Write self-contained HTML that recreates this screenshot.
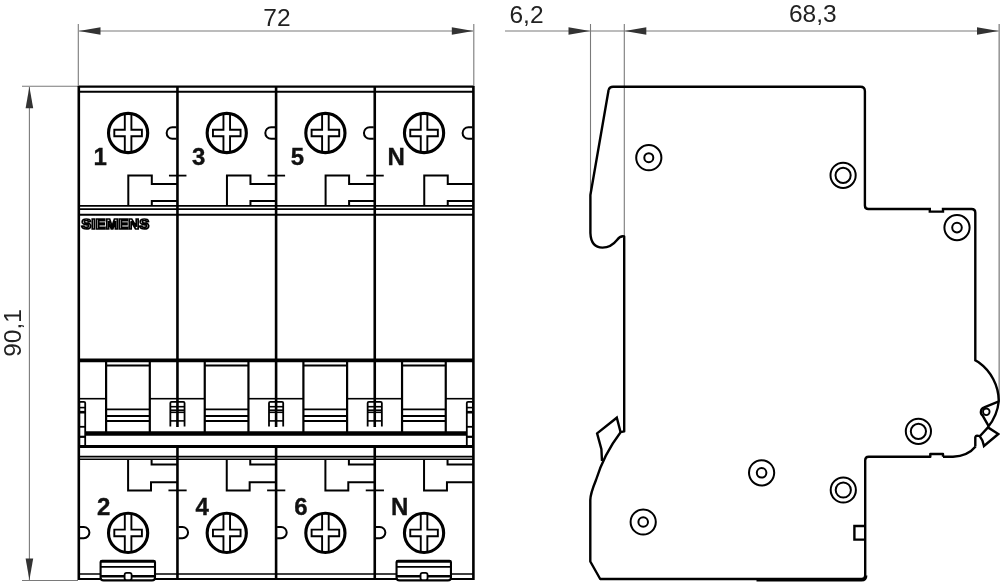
<!DOCTYPE html>
<html><head><meta charset="utf-8"><style>
html,body{margin:0;padding:0;background:#fff;width:1000px;height:584px;overflow:hidden}
svg{display:block;will-change:transform}
</style></head><body>
<svg width="1000" height="584" viewBox="0 0 1000 584">
<rect width="1000" height="584" fill="#fff"/>
<g stroke="#7a7a7a" stroke-width="1.1" fill="none">
<line x1="78.3" y1="24" x2="78.3" y2="86.5"/>
<line x1="473.8" y1="24" x2="473.8" y2="86.5"/>
<line x1="79" y1="31" x2="473" y2="31"/>
<line x1="22" y1="86.3" x2="78" y2="86.3"/>
<line x1="22" y1="580.5" x2="78" y2="580.5"/>
<line x1="29.4" y1="87" x2="29.4" y2="580"/>
<line x1="505" y1="31" x2="999" y2="31"/>
<line x1="590.5" y1="24" x2="590.5" y2="194"/>
<line x1="624.3" y1="24" x2="624.3" y2="236"/>
<line x1="999.2" y1="24" x2="999.2" y2="400" stroke="#9a9a9a" stroke-width="1.6"/>
</g>
<path d="M79,31 L100.5,27.2 L100.5,34.8 Z" fill="#333"/>
<path d="M473.3,31 L451.8,27.2 L451.8,34.8 Z" fill="#333"/>
<path d="M29.4,86.8 L25.599999999999998,108.3 L33.199999999999996,108.3 Z" fill="#333"/>
<path d="M29.4,580 L25.599999999999998,558.5 L33.199999999999996,558.5 Z" fill="#333"/>
<path d="M590,31 L568.5,27.2 L568.5,34.8 Z" fill="#333"/>
<path d="M624.8,31 L646.3,27.2 L646.3,34.8 Z" fill="#333"/>
<path d="M998.5,31 L977.0,27.2 L977.0,34.8 Z" fill="#333"/>
<g font-family="Liberation Sans, sans-serif" fill="#222">
<text x="277" y="25.9" font-size="24.5" text-anchor="middle">72</text>
<text x="526.5" y="22.5" font-size="24.5" text-anchor="middle">6,2</text>
<text x="812.8" y="22.4" font-size="24.5" text-anchor="middle">68,3</text>
<text transform="translate(21.2,333.0) rotate(-90)" font-size="24.5" text-anchor="middle">90,1</text>
</g>
<g stroke="#000" fill="none" stroke-linecap="butt">
<line x1="78.8" y1="86" x2="78.8" y2="580" stroke-width="2.6"/>
<line x1="473.40000000000003" y1="86" x2="473.40000000000003" y2="580" stroke-width="2.6"/>
<line x1="78.8" y1="86.6" x2="473.40000000000003" y2="86.6" stroke-width="2.3"/>
<line x1="78.8" y1="91.8" x2="473.40000000000003" y2="91.8" stroke-width="2"/>
<line x1="78.8" y1="205.9" x2="473.40000000000003" y2="205.9" stroke-width="1.8"/>
<line x1="78.8" y1="209.2" x2="473.40000000000003" y2="209.2" stroke-width="1.8"/>
<line x1="78.8" y1="214.8" x2="473.40000000000003" y2="214.8" stroke-width="2"/>
<line x1="78.8" y1="360.4" x2="473.40000000000003" y2="360.4" stroke-width="3.8"/>
<line x1="78.8" y1="446.6" x2="473.40000000000003" y2="446.6" stroke-width="3"/>
<line x1="78.8" y1="456.6" x2="473.40000000000003" y2="456.6" stroke-width="1.6"/>
<line x1="78.8" y1="459.3" x2="473.40000000000003" y2="459.3" stroke-width="1.6"/>
<line x1="78.8" y1="574.0" x2="473.40000000000003" y2="574.0" stroke-width="1.7"/>
<line x1="78.8" y1="579.0" x2="473.40000000000003" y2="579.0" stroke-width="1.8"/>
<line x1="85.2" y1="433.4" x2="466.8" y2="433.4" stroke-width="4.5"/>
<line x1="177.45" y1="86" x2="177.45" y2="427" stroke-width="2.6"/>
<line x1="177.45" y1="446" x2="177.45" y2="580" stroke-width="2.6"/>
<line x1="276.1" y1="86" x2="276.1" y2="427" stroke-width="2.6"/>
<line x1="276.1" y1="446" x2="276.1" y2="580" stroke-width="2.6"/>
<line x1="374.75000000000006" y1="86" x2="374.75000000000006" y2="427" stroke-width="2.6"/>
<line x1="374.75000000000006" y1="446" x2="374.75000000000006" y2="580" stroke-width="2.6"/>
<circle cx="128.1" cy="133.0" r="19.6" stroke-width="3.1"/>
<path d="M124.8,114.4 L124.8,129.7 L114.3,129.7 L114.3,136.3 L124.8,136.3 L124.8,151.6 M131.4,114.4 L131.4,129.7 L141.9,129.7 L141.9,136.3 L131.4,136.3 L131.4,151.6" stroke-width="1.9"/>
<path d="M176.45,127.2 L172.45,127.2 A5.8,5.8 0 0 0 172.45,138.8 L176.45,138.8" stroke-width="2"/>
<path d="M128.3,206 L128.3,175.6 L151.8,175.6 L151.8,184 L177.45,184" stroke-width="2"/>
<path d="M151.8,206 L151.8,201.1 L177.45,201.1" stroke-width="2"/>
<line x1="168.95" y1="175.6" x2="186.45" y2="175.6" stroke-width="1.8"/>
<path d="M106.1,360 L106.1,435 M149.8,360 L149.8,435" stroke-width="2.2"/>
<line x1="106.1" y1="365.6" x2="149.8" y2="365.6" stroke-width="2"/>
<line x1="106.1" y1="409.3" x2="149.8" y2="409.3" stroke-width="1.8"/>
<line x1="106.1" y1="416.0" x2="149.8" y2="416.0" stroke-width="1.8"/>
<line x1="106.1" y1="421.0" x2="149.8" y2="421.0" stroke-width="1.8"/>
<line x1="78.8" y1="398.7" x2="106.1" y2="398.7" stroke-width="1.6"/>
<line x1="149.8" y1="398.7" x2="177.45" y2="398.7" stroke-width="1.6"/>
<circle cx="128.1" cy="532.9" r="19.6" stroke-width="3.1"/>
<path d="M124.8,514.3 L124.8,529.6 L114.3,529.6 L114.3,536.1999999999999 L124.8,536.1999999999999 L124.8,551.5 M131.4,514.3 L131.4,529.6 L141.9,529.6 L141.9,536.1999999999999 L131.4,536.1999999999999 L131.4,551.5" stroke-width="1.9"/>
<path d="M79.8,527 L83.8,527 A5.6,5.6 0 0 1 83.8,538.2 L79.8,538.2" stroke-width="2"/>
<path d="M128.1,459.5 L128.1,490.4 L151.0,490.4 L151.0,482.2 L177.45,482.2" stroke-width="2"/>
<path d="M151.6,459.5 L151.6,464.6 L177.45,464.6" stroke-width="2"/>
<path d="M100.6,579.5 L100.6,562 Q100.6,560.8 102.1,560.8 L153.5,560.8 Q155.0,560.8 155.0,562 L155.0,577.5 Q155.0,580.4 152.0,580.4 L103.6,580.4 Q100.6,580.4 100.6,577.5" fill="#fff" stroke-width="2.1"/>
<line x1="100.6" y1="561.8" x2="155.0" y2="561.8" stroke-width="2"/>
<line x1="100.6" y1="566.9" x2="155.0" y2="566.9" stroke-width="1.6"/>
<line x1="100.6" y1="576.3" x2="155.0" y2="576.3" stroke-width="2.6"/>
<rect x="124.6" y="572.8" width="7" height="7.4" rx="2" fill="#fff" stroke-width="1.8"/>
<circle cx="226.75" cy="133.0" r="19.6" stroke-width="3.1"/>
<path d="M223.45,114.4 L223.45,129.7 L212.95,129.7 L212.95,136.3 L223.45,136.3 L223.45,151.6 M230.05,114.4 L230.05,129.7 L240.55,129.7 L240.55,136.3 L230.05,136.3 L230.05,151.6" stroke-width="1.9"/>
<path d="M275.1,127.2 L271.1,127.2 A5.8,5.8 0 0 0 271.1,138.8 L275.1,138.8" stroke-width="2"/>
<path d="M226.95,206 L226.95,175.6 L250.45,175.6 L250.45,184 L276.1,184" stroke-width="2"/>
<path d="M250.45,206 L250.45,201.1 L276.1,201.1" stroke-width="2"/>
<line x1="267.6" y1="175.6" x2="285.1" y2="175.6" stroke-width="1.8"/>
<path d="M204.75,360 L204.75,435 M248.45,360 L248.45,435" stroke-width="2.2"/>
<line x1="204.75" y1="365.6" x2="248.45" y2="365.6" stroke-width="2"/>
<line x1="204.75" y1="409.3" x2="248.45" y2="409.3" stroke-width="1.8"/>
<line x1="204.75" y1="416.0" x2="248.45" y2="416.0" stroke-width="1.8"/>
<line x1="204.75" y1="421.0" x2="248.45" y2="421.0" stroke-width="1.8"/>
<line x1="177.45" y1="398.7" x2="204.75" y2="398.7" stroke-width="1.6"/>
<line x1="248.45" y1="398.7" x2="276.1" y2="398.7" stroke-width="1.6"/>
<circle cx="226.75" cy="532.9" r="19.6" stroke-width="3.1"/>
<path d="M223.45,514.3 L223.45,529.6 L212.95,529.6 L212.95,536.1999999999999 L223.45,536.1999999999999 L223.45,551.5 M230.05,514.3 L230.05,529.6 L240.55,529.6 L240.55,536.1999999999999 L230.05,536.1999999999999 L230.05,551.5" stroke-width="1.9"/>
<path d="M178.45,527 L182.45,527 A5.6,5.6 0 0 1 182.45,538.2 L178.45,538.2" stroke-width="2"/>
<path d="M226.75,459.5 L226.75,490.4 L249.64999999999998,490.4 L249.64999999999998,482.2 L276.1,482.2" stroke-width="2"/>
<path d="M250.25,459.5 L250.25,464.6 L276.1,464.6" stroke-width="2"/>
<line x1="168.45" y1="490.4" x2="186.64999999999998" y2="490.4" stroke-width="1.8"/>
<circle cx="325.40000000000003" cy="133.0" r="19.6" stroke-width="3.1"/>
<path d="M322.1,114.4 L322.1,129.7 L311.6,129.7 L311.6,136.3 L322.1,136.3 L322.1,151.6 M328.70000000000005,114.4 L328.70000000000005,129.7 L339.20000000000005,129.7 L339.20000000000005,136.3 L328.70000000000005,136.3 L328.70000000000005,151.6" stroke-width="1.9"/>
<path d="M373.75,127.2 L369.75,127.2 A5.8,5.8 0 0 0 369.75,138.8 L373.75,138.8" stroke-width="2"/>
<path d="M325.6,206 L325.6,175.6 L349.1,175.6 L349.1,184 L374.75,184" stroke-width="2"/>
<path d="M349.1,206 L349.1,201.1 L374.75,201.1" stroke-width="2"/>
<line x1="366.25" y1="175.6" x2="383.75" y2="175.6" stroke-width="1.8"/>
<path d="M303.40000000000003,360 L303.40000000000003,435 M347.1,360 L347.1,435" stroke-width="2.2"/>
<line x1="303.40000000000003" y1="365.6" x2="347.1" y2="365.6" stroke-width="2"/>
<line x1="303.40000000000003" y1="409.3" x2="347.1" y2="409.3" stroke-width="1.8"/>
<line x1="303.40000000000003" y1="416.0" x2="347.1" y2="416.0" stroke-width="1.8"/>
<line x1="303.40000000000003" y1="421.0" x2="347.1" y2="421.0" stroke-width="1.8"/>
<line x1="276.1" y1="398.7" x2="303.40000000000003" y2="398.7" stroke-width="1.6"/>
<line x1="347.1" y1="398.7" x2="374.75" y2="398.7" stroke-width="1.6"/>
<circle cx="325.40000000000003" cy="532.9" r="19.6" stroke-width="3.1"/>
<path d="M322.1,514.3 L322.1,529.6 L311.6,529.6 L311.6,536.1999999999999 L322.1,536.1999999999999 L322.1,551.5 M328.70000000000005,514.3 L328.70000000000005,529.6 L339.20000000000005,529.6 L339.20000000000005,536.1999999999999 L328.70000000000005,536.1999999999999 L328.70000000000005,551.5" stroke-width="1.9"/>
<path d="M277.1,527 L281.1,527 A5.6,5.6 0 0 1 281.1,538.2 L277.1,538.2" stroke-width="2"/>
<path d="M325.40000000000003,459.5 L325.40000000000003,490.4 L348.3,490.4 L348.3,482.2 L374.75,482.2" stroke-width="2"/>
<path d="M348.90000000000003,459.5 L348.90000000000003,464.6 L374.75,464.6" stroke-width="2"/>
<line x1="267.1" y1="490.4" x2="285.3" y2="490.4" stroke-width="1.8"/>
<circle cx="424.05000000000007" cy="133.0" r="19.6" stroke-width="3.1"/>
<path d="M420.75000000000006,114.4 L420.75000000000006,129.7 L410.25000000000006,129.7 L410.25000000000006,136.3 L420.75000000000006,136.3 L420.75000000000006,151.6 M427.3500000000001,114.4 L427.3500000000001,129.7 L437.8500000000001,129.7 L437.8500000000001,136.3 L427.3500000000001,136.3 L427.3500000000001,151.6" stroke-width="1.9"/>
<path d="M472.4000000000001,127.2 L468.4000000000001,127.2 A5.8,5.8 0 0 0 468.4000000000001,138.8 L472.4000000000001,138.8" stroke-width="2"/>
<path d="M424.25000000000006,206 L424.25000000000006,175.6 L447.75000000000006,175.6 L447.75000000000006,184 L473.4000000000001,184" stroke-width="2"/>
<path d="M447.75000000000006,206 L447.75000000000006,201.1 L473.4000000000001,201.1" stroke-width="2"/>
<path d="M402.05000000000007,360 L402.05000000000007,435 M445.75000000000006,360 L445.75000000000006,435" stroke-width="2.2"/>
<line x1="402.05000000000007" y1="365.6" x2="445.75000000000006" y2="365.6" stroke-width="2"/>
<line x1="402.05000000000007" y1="409.3" x2="445.75000000000006" y2="409.3" stroke-width="1.8"/>
<line x1="402.05000000000007" y1="416.0" x2="445.75000000000006" y2="416.0" stroke-width="1.8"/>
<line x1="402.05000000000007" y1="421.0" x2="445.75000000000006" y2="421.0" stroke-width="1.8"/>
<line x1="374.75000000000006" y1="398.7" x2="402.05000000000007" y2="398.7" stroke-width="1.6"/>
<line x1="445.75000000000006" y1="398.7" x2="473.4000000000001" y2="398.7" stroke-width="1.6"/>
<circle cx="424.05000000000007" cy="532.9" r="19.6" stroke-width="3.1"/>
<path d="M420.75000000000006,514.3 L420.75000000000006,529.6 L410.25000000000006,529.6 L410.25000000000006,536.1999999999999 L420.75000000000006,536.1999999999999 L420.75000000000006,551.5 M427.3500000000001,514.3 L427.3500000000001,529.6 L437.8500000000001,529.6 L437.8500000000001,536.1999999999999 L427.3500000000001,536.1999999999999 L427.3500000000001,551.5" stroke-width="1.9"/>
<path d="M375.75000000000006,527 L379.75000000000006,527 A5.6,5.6 0 0 1 379.75000000000006,538.2 L375.75000000000006,538.2" stroke-width="2"/>
<path d="M424.05000000000007,459.5 L424.05000000000007,490.4 L446.95000000000005,490.4 L446.95000000000005,482.2 L473.4000000000001,482.2" stroke-width="2"/>
<path d="M447.55000000000007,459.5 L447.55000000000007,464.6 L473.4000000000001,464.6" stroke-width="2"/>
<line x1="365.75000000000006" y1="490.4" x2="383.95000000000005" y2="490.4" stroke-width="1.8"/>
<path d="M396.55000000000007,579.5 L396.55000000000007,562 Q396.55000000000007,560.8 398.05000000000007,560.8 L449.45000000000005,560.8 Q450.95000000000005,560.8 450.95000000000005,562 L450.95000000000005,577.5 Q450.95000000000005,580.4 447.95000000000005,580.4 L399.55000000000007,580.4 Q396.55000000000007,580.4 396.55000000000007,577.5" fill="#fff" stroke-width="2.1"/>
<line x1="396.55000000000007" y1="561.8" x2="450.95000000000005" y2="561.8" stroke-width="2"/>
<line x1="396.55000000000007" y1="566.9" x2="450.95000000000005" y2="566.9" stroke-width="1.6"/>
<line x1="396.55000000000007" y1="576.3" x2="450.95000000000005" y2="576.3" stroke-width="2.6"/>
<rect x="420.55000000000007" y="572.8" width="7" height="7.4" rx="2" fill="#fff" stroke-width="1.8"/>
<path d="M170.35,426.6 L170.35,403.0 Q170.35,401.8 171.54999999999998,401.8 L183.35,401.8 Q184.54999999999998,401.8 184.54999999999998,403.0 L184.54999999999998,426.6" stroke-width="1.8"/>
<line x1="170.35" y1="406.7" x2="184.54999999999998" y2="406.7" stroke-width="1.6"/>
<line x1="170.35" y1="410.2" x2="184.54999999999998" y2="410.2" stroke-width="1.6"/>
<line x1="170.35" y1="412.3" x2="184.54999999999998" y2="412.3" stroke-width="1.6"/>
<line x1="170.35" y1="420.9" x2="184.54999999999998" y2="420.9" stroke-width="1.6"/>
<path d="M269.0,426.6 L269.0,403.0 Q269.0,401.8 270.2,401.8 L282.00000000000006,401.8 Q283.20000000000005,401.8 283.20000000000005,403.0 L283.20000000000005,426.6" stroke-width="1.8"/>
<line x1="269.0" y1="406.7" x2="283.20000000000005" y2="406.7" stroke-width="1.6"/>
<line x1="269.0" y1="410.2" x2="283.20000000000005" y2="410.2" stroke-width="1.6"/>
<line x1="269.0" y1="412.3" x2="283.20000000000005" y2="412.3" stroke-width="1.6"/>
<line x1="269.0" y1="420.9" x2="283.20000000000005" y2="420.9" stroke-width="1.6"/>
<path d="M367.65000000000003,426.6 L367.65000000000003,403.0 Q367.65000000000003,401.8 368.85,401.8 L380.6500000000001,401.8 Q381.8500000000001,401.8 381.8500000000001,403.0 L381.8500000000001,426.6" stroke-width="1.8"/>
<line x1="367.65000000000003" y1="406.7" x2="381.8500000000001" y2="406.7" stroke-width="1.6"/>
<line x1="367.65000000000003" y1="410.2" x2="381.8500000000001" y2="410.2" stroke-width="1.6"/>
<line x1="367.65000000000003" y1="412.3" x2="381.8500000000001" y2="412.3" stroke-width="1.6"/>
<line x1="367.65000000000003" y1="420.9" x2="381.8500000000001" y2="420.9" stroke-width="1.6"/>
<path d="M79.3,445.5 L79.3,403.0 Q79.3,401.8 80.5,401.8 L84.0,401.8 Q85.2,401.8 85.2,403.0 L85.2,445.5" stroke-width="1.8"/>
<line x1="79.3" y1="407.6" x2="85.2" y2="407.6" stroke-width="1.6"/>
<line x1="79.3" y1="412.2" x2="85.2" y2="412.2" stroke-width="2.6"/>
<line x1="79.3" y1="426.8" x2="85.2" y2="426.8" stroke-width="1.8"/>
<line x1="79.3" y1="436.8" x2="85.2" y2="436.8" stroke-width="2.2"/>
<path d="M466.8,445.5 L466.8,403.0 Q466.8,401.8 468.0,401.8 L471.70000000000005,401.8 Q472.90000000000003,401.8 472.90000000000003,403.0 L472.90000000000003,445.5" stroke-width="1.8"/>
<line x1="466.8" y1="407.6" x2="472.90000000000003" y2="407.6" stroke-width="1.6"/>
<line x1="466.8" y1="412.2" x2="472.90000000000003" y2="412.2" stroke-width="2.6"/>
<line x1="466.8" y1="426.8" x2="472.90000000000003" y2="426.8" stroke-width="1.8"/>
<line x1="466.8" y1="436.8" x2="472.90000000000003" y2="436.8" stroke-width="2.2"/>
</g>
<text x="81.3" y="229.4" font-family="Liberation Sans, sans-serif" font-weight="bold" font-size="15.2" fill="#fff" stroke="#000" stroke-width="1.7" textLength="68" lengthAdjust="spacingAndGlyphs">SIEMENS</text>
<g font-family="Liberation Sans, sans-serif" font-weight="bold" font-size="24" fill="#111" stroke="#111" stroke-width="0.35" text-anchor="middle">
<text x="100.1" y="164.6">1</text>
<text x="103.6" y="514.9">2</text>
<text x="198.75" y="164.6">3</text>
<text x="202.25" y="514.9">4</text>
<text x="297.40000000000003" y="164.6">5</text>
<text x="300.90000000000003" y="514.9">6</text>
<text x="396.05000000000007" y="164.6">N</text>
<text x="399.55000000000007" y="514.9">N</text>
</g>
<path d="M608.6,90 Q609.6,86.8 613,86.8 L860.4,86.8 Q864.9,86.8 864.9,91.3 L864.9,205.5 Q864.9,209 868.4,209 L929.8,209 L929.8,211.6 L943,211.6 L943,209 L971.5,209 Q975.3,209 975.3,212.8 L975.3,360.4 L978.6,362.3 A48.4,48.4 0 0 1 998.8,401 " fill="none" stroke="#000" stroke-width="2.4"/>
<path d="M608.6,90 L590.4,195 L590.4,233 Q591,247.6 602.5,247.6 Q611,247.6 617,240 Q620.5,235.5 624.2,236.5 L624.2,431.4 L620.6,432.2 Q604,454 596,480 Q590.3,494 590.3,500 L590.3,561.5 L600.2,579.0 L861.7,579.0 Q865.2,579.0 865.2,575.5 L865.2,460.2 Q865.2,456.7 868.7,456.7 L930.3,456.7 L930.3,454 L943,454 L943,456.7" fill="none" stroke="#000" stroke-width="2.4" stroke-linejoin="round"/>
<path d="M943,456.7 L953,456.7 Q968,456 975.6,446.5" fill="none" stroke="#000" stroke-width="2.4"/>
<path d="M620.6,432.2 L616.8,417.7 L597.1,433.4 L601.4,449.3 L602,461" fill="none" stroke="#000" stroke-width="2.4"/>
<path d="M756.5,580.2 L861.5,580.2 Q866,580.2 866,575.5" fill="none" stroke="#000" stroke-width="2.8"/>
<path d="M864.6,526 L854.4,526 L854.4,539.6 L864.6,539.6" fill="none" stroke="#000" stroke-width="2.4"/>
<path d="M998.8,401 A48.4,48.4 0 0 1 988,427" fill="none" stroke="#000" stroke-width="2.4"/>
<path d="M998.3,401.7 L984.2,407.4 A4.8,4.8 0 0 0 982.8,415.8 L988.5,425.8" fill="none" stroke="#000" stroke-width="2.4"/>
<circle cx="986.3" cy="411.8" r="3.3" fill="none" stroke="#000" stroke-width="1.8"/>
<path d="M979.8,436.2 L988,427.4 L998.3,434 L984,446 Q983,440 979.8,436.2 Z" fill="#fff" stroke="#000" stroke-width="2.4"/>
<path d="M975.3,446.5 L975.3,437.5 Q975.6,435.6 977,435.6 L979.8,436.2" fill="none" stroke="#000" stroke-width="2.4"/>
<circle cx="648.8" cy="157.7" r="12.6" fill="none" stroke="#000" stroke-width="2.0"/>
<circle cx="648.8" cy="157.7" r="4.5" fill="none" stroke="#000" stroke-width="2.0"/>
<circle cx="843.1" cy="175.3" r="12.6" fill="none" stroke="#000" stroke-width="2.0"/>
<circle cx="843.1" cy="175.3" r="7.6" fill="none" stroke="#000" stroke-width="2.0"/>
<circle cx="957.0" cy="227.6" r="12.6" fill="none" stroke="#000" stroke-width="2.0"/>
<circle cx="957.0" cy="227.6" r="4.8" fill="none" stroke="#000" stroke-width="2.0"/>
<circle cx="918.4" cy="431.3" r="12.6" fill="none" stroke="#000" stroke-width="2.0"/>
<circle cx="918.4" cy="431.3" r="7.6" fill="none" stroke="#000" stroke-width="2.0"/>
<circle cx="761.6" cy="472.8" r="12.6" fill="none" stroke="#000" stroke-width="2.0"/>
<circle cx="761.6" cy="472.8" r="4.8" fill="none" stroke="#000" stroke-width="2.0"/>
<circle cx="843.3" cy="490.0" r="12.6" fill="none" stroke="#000" stroke-width="2.0"/>
<circle cx="843.3" cy="490.0" r="7.6" fill="none" stroke="#000" stroke-width="2.0"/>
<circle cx="643.2" cy="522.0" r="12.6" fill="none" stroke="#000" stroke-width="2.0"/>
<circle cx="643.2" cy="522.0" r="4.8" fill="none" stroke="#000" stroke-width="2.0"/>
</svg>
</body></html>
